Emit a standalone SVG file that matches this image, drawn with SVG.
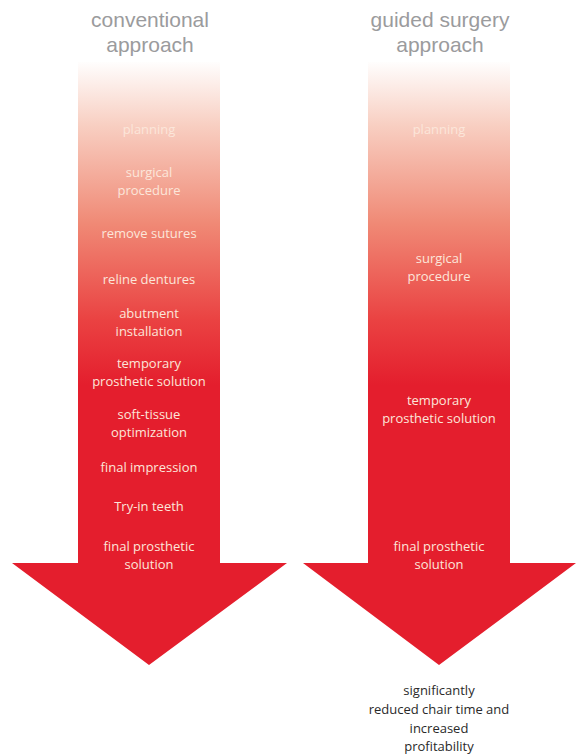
<svg xmlns="http://www.w3.org/2000/svg" width="576" height="756" viewBox="0 0 576 756">
<style>
.title{font-family:"Liberation Sans",Arial,sans-serif;font-size:21px;fill:#9b9b9d;text-anchor:middle}
.lbl{font-family:"Open Sans","Liberation Sans",sans-serif;font-size:13px;fill:#fce6da;text-anchor:middle}
.note{font-family:"Open Sans","Liberation Sans",sans-serif;font-size:13px;fill:#2a2a2a;text-anchor:middle}
</style>
<defs>
<linearGradient id="fade" gradientUnits="userSpaceOnUse" x1="0" y1="60" x2="0" y2="385">
<stop offset="0" stop-color="#ffffff"/>
<stop offset="0.2" stop-color="#f8cfc2"/>
<stop offset="0.5" stop-color="#f08a76"/>
<stop offset="0.8" stop-color="#ea4242"/>
<stop offset="1" stop-color="#e41e2d"/>
</linearGradient>
</defs>
<g id="title-left"><text class="title" x="150" y="27">conventional</text><text class="title" x="150" y="52">approach</text></g>
<g id="title-right"><text class="title" x="440" y="27">guided surgery</text><text class="title" x="440" y="52">approach</text></g>
<g id="arrow-left">
<path d="M78,62 H220 V563 H287 L149,665 L12,563 H78 Z" fill="url(#fade)"/>
<text class="lbl" x="149" y="134">planning</text>
<text class="lbl" x="149" y="177">surgical</text><text class="lbl" x="149" y="195">procedure</text>
<text class="lbl" x="149" y="238">remove sutures</text>
<text class="lbl" x="149" y="284">reline dentures</text>
<text class="lbl" x="149" y="318">abutment</text><text class="lbl" x="149" y="336">installation</text>
<text class="lbl" x="149" y="368">temporary</text><text class="lbl" x="149" y="386">prosthetic solution</text>
<text class="lbl" x="149" y="419">soft-tissue</text><text class="lbl" x="149" y="437">optimization</text>
<text class="lbl" x="149" y="472">final impression</text>
<text class="lbl" x="149" y="511">Try-in teeth</text>
<text class="lbl" x="149" y="551">final prosthetic</text><text class="lbl" x="149" y="569">solution</text>
</g>
<g id="arrow-right">
<path d="M368,62 H510 V563 H576 L439,665 L303,563 H368 Z" fill="url(#fade)"/>
<text class="lbl" x="439" y="134">planning</text>
<text class="lbl" x="439" y="263">surgical</text><text class="lbl" x="439" y="281">procedure</text>
<text class="lbl" x="439" y="405">temporary</text><text class="lbl" x="439" y="423">prosthetic solution</text>
<text class="lbl" x="439" y="551">final prosthetic</text><text class="lbl" x="439" y="569">solution</text>
</g>
<g id="note">
<text class="note" x="439" y="695">significantly</text>
<text class="note" x="439" y="714">reduced chair time and</text>
<text class="note" x="439" y="733">increased</text>
<text class="note" x="439" y="751">profitability</text>
</g>
</svg>
